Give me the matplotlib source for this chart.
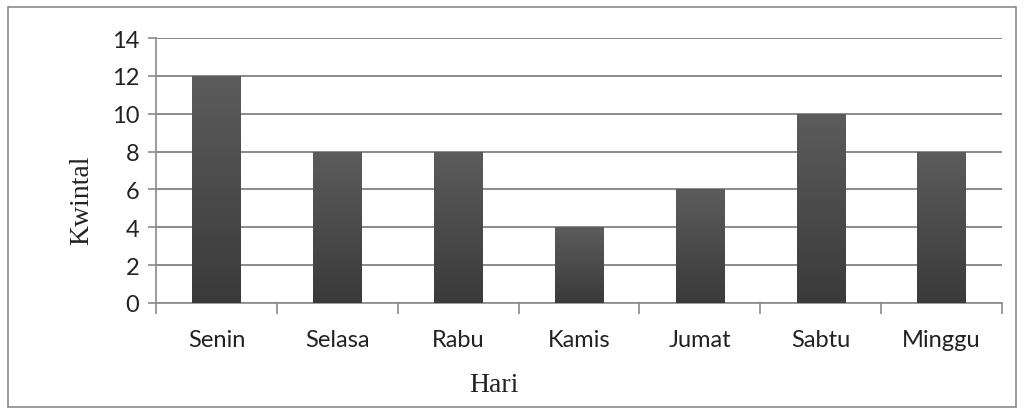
import numpy as np
import matplotlib.pyplot as plt
from matplotlib.patches import Rectangle

hari = ["Senin", "Selasa", "Rabu", "Kamis", "Jumat", "Sabtu", "Minggu"]
kwintal = [12, 8, 8, 4, 6, 10, 8]
yticks = [0, 2, 4, 6, 8, 10, 12, 14]

fig = plt.figure(figsize=(10.24, 4.10), dpi=100)
ax = fig.add_axes([156 / 1024, 1 - 304 / 410, 846 / 1024, 265 / 410])

# bingkai luar
fig.patches.append(Rectangle((8 / 1024, 2 / 410), 1008 / 1024, 400 / 410,
                             transform=fig.transFigure, fill=False,
                             edgecolor="#8a8a8a", linewidth=1.2))

x = np.arange(len(hari))
bars = ax.bar(x, kwintal, width=0.4, color="#4a4a4a", zorder=3)

# gradasi gelap di bawah, lebih terang di atas
cmap = plt.cm.colors.LinearSegmentedColormap.from_list("g", ["#3a3a3a", "#5c5c5c"])
grad = np.linspace(0, 1, 256).reshape(-1, 1)
for b in bars:
    x0, y0 = b.get_x(), b.get_y()
    w, h = b.get_width(), b.get_height()
    im = ax.imshow(grad, extent=[x0, x0 + w, y0, y0 + h], origin="lower",
                   cmap=cmap, aspect="auto", zorder=4)
    im.set_clip_path(b)

ax.set_xlim(-0.5, len(hari) - 0.5)
ax.set_ylim(0, 14)
ax.set_yticks(yticks)
ax.set_xticks(x)
ax.set_xticklabels(hari, family="Lato", fontsize=17, color="#222222")
ax.set_yticklabels([str(v) for v in yticks], family="Lato", fontsize=17, color="#222222")
ax.set_xticks(np.arange(-0.5, len(hari)), minor=True)
ax.tick_params(axis="x", which="major", length=0, pad=19)
ax.tick_params(axis="x", which="minor", length=8, color="#8a8a8a", width=1.2)
ax.tick_params(axis="y", length=6, color="#8a8a8a", width=1.2, pad=6)

ax.grid(axis="y", color="#8a8a8a", linewidth=1.4, zorder=0)
for s in ["top", "right"]:
    ax.spines[s].set_visible(False)
ax.spines["left"].set_color("#8a8a8a")
ax.spines["bottom"].set_color("#8a8a8a")
ax.spines["left"].set_linewidth(1.2)
ax.spines["bottom"].set_linewidth(1.2)

ax.set_xlabel("Hari", family="Liberation Serif", fontsize=20, color="#222222")
ax.xaxis.set_label_coords(0.40, -0.259)
ax.set_ylabel("Kwintal", family="Liberation Serif", fontsize=20, color="#222222")
ax.yaxis.set_label_coords(-0.073, 0.39)

fig.savefig("out.png", dpi=100)
